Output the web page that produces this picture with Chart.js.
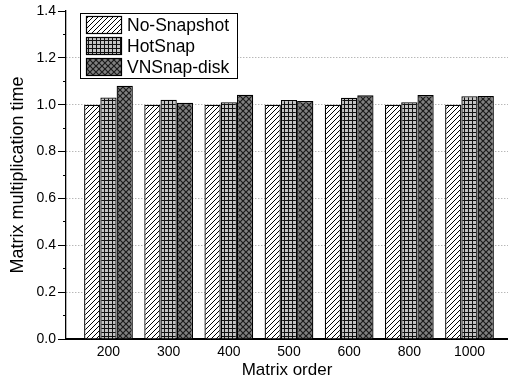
<!DOCTYPE html>
<html>
<head>
<meta charset="utf-8">
<script src="https://cdn.jsdelivr.net/npm/chart.js@4/dist/chart.umd.min.js"></script>
<style>
  html, body { margin: 0; padding: 0; background: #fff; overflow: hidden; }
  #wrap { width: 508px; height: 381px; }
</style>
</head>
<body>
<div id="wrap"><canvas id="chart1"></canvas></div>
<script>
// Data
const orders = ['200', '300', '400', '500', '600', '800', '1000']
const series_names = ['No-Snapshot', 'HotSnap', 'VNSnap-disk']
const no_snapshot = [1.0, 1.0, 1.0, 1.0, 1.0, 1.0, 1.0]
const hotsnap = [1.031, 1.021, 1.011, 1.020, 1.030, 1.011, 1.036]
const vnsnap_disk = [1.081, 1.008, 1.043, 1.016, 1.040, 1.041, 1.037]
const y_ticks = [0, 0.2, 0.4, 0.6, 0.8, 1.0, 1.2, 1.4]

const FONT = 'Arial, "Liberation Sans", Helvetica, sans-serif'

// Fill patterns (hatch / grid / crosshatch)
function make_pattern(kind) {
    const c = document.createElement('canvas')
    const ctx = c.getContext('2d')
    if (kind == 'hatch') {
        c.width = 5; c.height = 5
        ctx.fillStyle = '#fff'; ctx.fillRect(0, 0, 5, 5)
        ctx.strokeStyle = '#000'; ctx.lineWidth = 1
        ctx.beginPath()
        ctx.moveTo(-1, 6); ctx.lineTo(6, -1)
        ctx.moveTo(-1, 1); ctx.lineTo(1, -1)
        ctx.moveTo(4, 6); ctx.lineTo(6, 4)
        ctx.stroke()
    } else if (kind == 'grid') {
        c.width = 4; c.height = 4
        ctx.fillStyle = '#c4c4c4'; ctx.fillRect(0, 0, 4, 4)
        ctx.fillStyle = '#111'
        ctx.fillRect(0, 0, 4, 1)
        ctx.fillRect(0, 0, 1, 4)
    } else {
        c.width = 6; c.height = 6
        ctx.fillStyle = '#808080'; ctx.fillRect(0, 0, 6, 6)
        ctx.strokeStyle = '#1a1a1a'; ctx.lineWidth = 1.2
        ctx.beginPath()
        ctx.moveTo(0, 0); ctx.lineTo(6, 6)
        ctx.moveTo(0, 6); ctx.lineTo(6, 0)
        ctx.stroke()
    }
    return document.getElementById('chart1').getContext('2d').createPattern(c, 'repeat')
}

const fills = [make_pattern('hatch'), make_pattern('grid'), make_pattern('cross')]

const to_points = arr => arr.map((v, i) => ({x: i, y: v}))

// Legend with box, drawn inside the plot area
const box_legend = {
    id: 'box_legend',
    afterDraw(chart) {
        const ctx = chart.ctx
        const a = chart.chartArea
        const x0 = a.left + 14, y0 = a.top + 2
        const w = 157, h = 65
        ctx.save()
        ctx.fillStyle = '#fff'
        ctx.fillRect(x0, y0, w, h)
        ctx.strokeStyle = '#000'; ctx.lineWidth = 1
        ctx.strokeRect(x0 + 0.5, y0 + 0.5, w, h)
        ctx.font = '17.5px ' + FONT
        ctx.textBaseline = 'middle'
        series_names.forEach((name, i) => {
            const sy = y0 + 3 + i * 21
            ctx.fillStyle = fills[i]
            ctx.fillRect(x0 + 6, sy, 35, 17)
            ctx.strokeStyle = '#000'; ctx.lineWidth = 1.2
            ctx.strokeRect(x0 + 6.5, sy + 0.5, 35, 17)
            ctx.fillStyle = '#000'
            ctx.fillText(name, x0 + 47, sy + 10)
        })
        ctx.restore()
    }
}

const is_minor = v => Math.round(v * 10) % 2 == 1

const config = {
    type: 'bar',
    data: {
        datasets: series_names.map((name, i) => ({
            label: name,
            data: to_points([no_snapshot, hotsnap, vnsnap_disk][i]),
            backgroundColor: fills[i],
            borderColor: '#000',
            borderWidth: 1.3,
            borderSkipped: 'bottom',
            categoryPercentage: 0.81,
            barPercentage: 1.0,
        }))
    },
    options: {
        responsive: true,
        maintainAspectRatio: false,
        animation: false,
        layout: { padding: { top: 11, right: 0, left: 0, bottom: 0 } },
        plugins: {
            legend: { display: false },
            tooltip: { enabled: false },
        },
        scales: {
            x: {
                type: 'linear',
                offset: false,
                min: -0.706,
                max: 6.64,
                afterBuildTicks: scale => { scale.ticks = orders.map((_, i) => ({value: i})) },
                afterFit: scale => { scale.height = 42 },
                grid: { display: false, drawTicks: false, tickLength: 0 },
                border: { display: true, color: '#000', width: 2 },
                ticks: {
                    autoSkip: false,
                    maxRotation: 0,
                    padding: 5,
                    color: '#000',
                    font: { family: FONT, size: 14 },
                    callback: v => orders[v],
                },
                title: {
                    display: true,
                    text: 'Matrix order',
                    color: '#000',
                    font: { family: FONT, size: 17 },
                    padding: { top: 0, bottom: 0 },
                },
            },
            y: {
                min: 0,
                max: 1.4,
                afterBuildTicks: scale => {
                    const t = []
                    for (let k = 0; k <= 14; k++) t.push({value: k / 10})
                    scale.ticks = t
                },
                afterFit: scale => { scale.width = 66 },
                grid: {
                    color: c => {
                        const v = c.tick ? c.tick.value : 0
                        if (is_minor(v) || v == 0 || Math.abs(v - 1.4) < 1e-6) return 'rgba(0,0,0,0)'
                        return '#9a9a9a'
                    },
                    lineWidth: 1,
                    tickColor: '#000',
                    tickLength: 8,
                    tickWidth: 1,
                    tickBorderDash: c => (c.tick && is_minor(c.tick.value)) ? [0, 5, 3, 100] : [],
                },
                border: { display: true, color: '#000', width: 1.3, dash: [1, 2] },
                ticks: {
                    padding: 2,
                    color: '#000',
                    font: { family: FONT, size: 14 },
                    callback: v => is_minor(v) ? '' : (y_ticks.find(t => Math.abs(t - v) < 1e-6) ?? v).toFixed(1),
                },
                title: {
                    display: true,
                    text: 'Matrix multiplication time',
                    color: '#000',
                    font: { family: FONT, size: 18 },
                    padding: { top: 7, bottom: 0 },
                },
            },
        },
    },
    plugins: [box_legend],
}

const bar_chart = new Chart(document.getElementById('chart1'), config)
</script>
</body>
</html>
